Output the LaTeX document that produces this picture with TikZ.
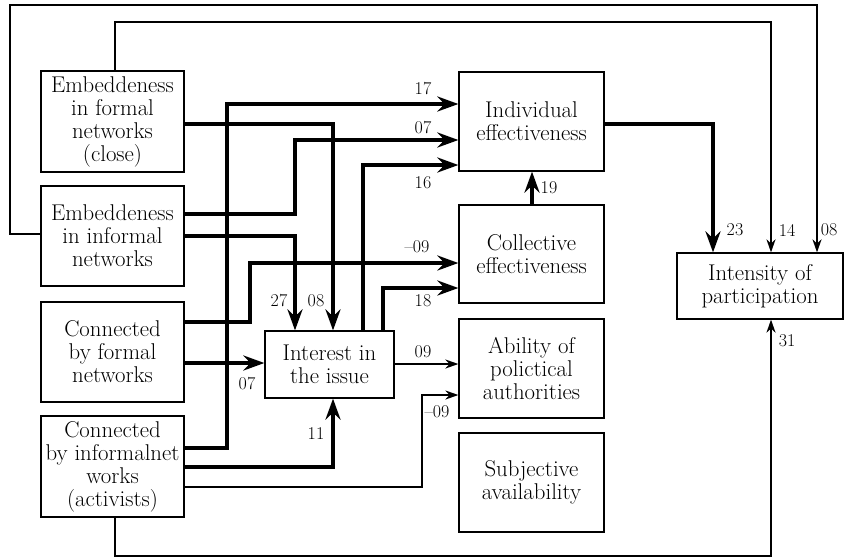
\documentclass[tikz,border=0pt]{standalone}
\usetikzlibrary{arrows.meta}
\tikzset{
  box/.style={draw, line width=1.2pt, inner sep=0pt, align=center,
    font=\rmfamily\fontsize{22.8}{23}\selectfont},
  thk/.style={line width=3.6pt, line join=miter},
  thkarr/.style={thk, -{Stealth[length=21pt,width=15pt,inset=7pt]}},
  thn/.style={line width=1.8pt},
  thnarr/.style={thn, -{Stealth[length=13pt,width=9pt,inset=4pt]}},
  lbl/.style={inner sep=0pt, font=\rmfamily\fontsize{18}{18}\selectfont}
}
\begin{document}
\begin{tikzpicture}[x=1pt,y=-1pt]
\useasboundingbox (0,0) rectangle (845,558);
% boxes
\node[box, minimum width=143pt, minimum height=101pt] (A) at (112.5,121.5) {Embeddeness\\in formal\\networks\\(close)};
\node[box, minimum width=143pt, minimum height=100pt] (B) at (112.5,236) {Embeddeness\\in informal\\networks};
\node[box, minimum width=143pt, minimum height=100pt] (C) at (112.5,352) {Connected\\by formal\\networks};
\node[box, minimum width=143pt, minimum height=101pt] (D) at (112.5,466.5) {Connected\\by informalnet\\works\\(activists)};
\node[box, minimum width=145pt, minimum height=99pt] (Ind) at (531.5,121.5) {Individual\\effectiveness};
\node[box, minimum width=145pt, minimum height=98pt] (Col) at (531.5,254) {Collective\\effectiveness};
\node[box, minimum width=145pt, minimum height=99pt] (Abi) at (531.5,368.5) {Ability of\\polictical\\authorities};
\node[box, minimum width=145pt, minimum height=99pt] (Sub) at (531.5,482.5) {Subjective\\availability};
\node[box, minimum width=129pt, minimum height=67pt] (Int) at (329.5,364.5) {Interest in\\the issue};
\node[box, minimum width=166pt, minimum height=66pt] (Inten) at (760,286) {Intensity of\\participation};
% feedback lines
\draw[thnarr] (B.west |- 0,234) -- (10,234) |- (817,5) -- (Inten.north -| 817,0);
\draw[thnarr] (A.north -| 115,0) |- (771,22) -- (Inten.north -| 771,0);
\draw[thnarr] (D.south -| 115,0) |- (771,556) -- (Inten.south -| 771,0);
% thick connectors
\draw[thkarr] (Ind.east |- 0,124) -| (Inten.north -| 713,0);
\draw[thkarr] (Col.north -| 532,0) -- (Ind.south -| 532,0);
\draw[thkarr] (D.east |- 0,448) -| (227,104) -- (Ind.west |- 0,104);
\draw[thkarr] (A.east |- 0,124) -| (Int.north -| 333,0);
\draw[thkarr] (B.east |- 0,214) -| (295,140) -- (Ind.west |- 0,140);
\draw[thkarr] (B.east |- 0,236) -| (Int.north -| 295,0);
\draw[thkarr] (C.east |- 0,322) -| (250,263) -- (Col.west |- 0,263);
\draw[thkarr] (Int.north -| 363,0) |- (Ind.west |- 0,165);
\draw[thkarr] (Int.north -| 383,0) |- (Col.west |- 0,288);
\draw[thkarr] (C.east |- 0,363) -- (Int.west |- 0,363);
\draw[thkarr] (D.east |- 0,467) -| (Int.south -| 333,0);
% thin connectors
\draw[thnarr] (D.east |- 0,487) -| (422,395) -- (Abi.west |- 0,395);
\draw[thnarr] (Int.east |- 0,364) -- (Abi.west |- 0,364);
% labels
\node[lbl] (l17) at (423,89) {17};
\node[lbl] (l07a) at (423,128) {07};
\node[lbl] (l16) at (423,183) {16};
\node[lbl] (lm09a) at (417,247) {--09};
\node[lbl] (l19) at (549,188) {19};
\node[lbl] (l23) at (735,230) {23};
\node[lbl] (l14) at (787,230) {14};
\node[lbl] (l08a) at (829,230) {08};
\node[lbl] (l31) at (787,341) {31};
\node[lbl] (l27) at (279,301) {27};
\node[lbl] (l08b) at (316,301) {08};
\node[lbl] (l18) at (423,301) {18};
\node[lbl] (l09) at (423,352) {09};
\node[lbl] (lm09b) at (437,412) {--09};
\node[lbl] (l11) at (316,434) {11};
\node[lbl] (l07b) at (247,384) {07};
\end{tikzpicture}
\end{document}
